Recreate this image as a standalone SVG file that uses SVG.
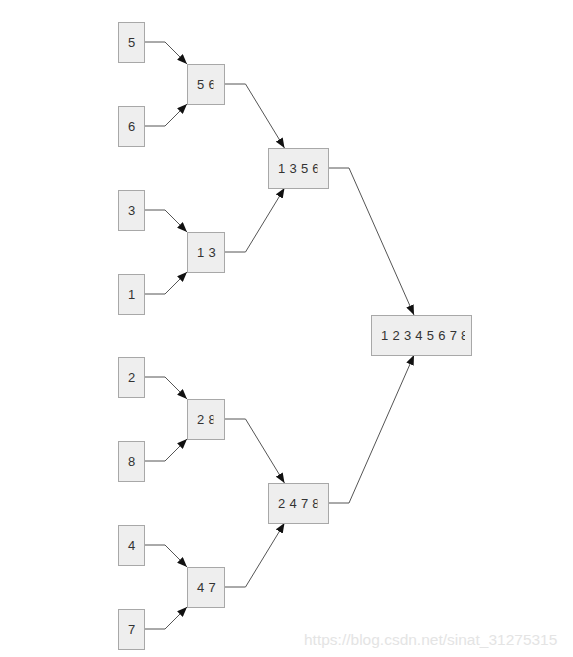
<svg xmlns="http://www.w3.org/2000/svg" width="573" height="657" viewBox="0 0 573 657">
<style>
.box{fill:#eeeeee;stroke:#a8a8a8;stroke-width:1}
.lbl{font-family:"Liberation Sans",Arial,sans-serif;font-size:13px;fill:#333333;letter-spacing:0.3px}
.edge{fill:none;stroke:#555555;stroke-width:1}
.wm{font-family:"Liberation Sans",Arial,sans-serif;font-size:15.5px;fill:#e4e4e4}
</style>
<defs>
<marker id="arr" markerUnits="userSpaceOnUse" markerWidth="10" markerHeight="8" viewBox="0 0 10 8" refX="10" refY="4" orient="auto">
<path d="M0,0 L10,4 L0,8 Z" fill="#111111"/>
</marker>
<clipPath id="c56"><rect x="187" y="64" width="26.5" height="40"/></clipPath>
<clipPath id="c13"><rect x="187" y="232" width="30" height="40"/></clipPath>
<clipPath id="c28"><rect x="187" y="399" width="26.5" height="40"/></clipPath>
<clipPath id="c47"><rect x="187" y="567" width="30" height="40"/></clipPath>
<clipPath id="c1356"><rect x="268" y="148" width="49.5" height="40"/></clipPath>
<clipPath id="c2478"><rect x="268" y="483" width="49.5" height="40"/></clipPath>
<clipPath id="call"><rect x="371" y="315" width="94" height="40"/></clipPath>
</defs>
<rect width="573" height="657" fill="#ffffff"/>
<g id="connectors">
<path class="edge" marker-end="url(#arr)" d="M144 42 H165 L187 64"/>
<path class="edge" marker-end="url(#arr)" d="M144 126 H165 L187 104"/>
<path class="edge" marker-end="url(#arr)" d="M144 210 H165 L187 232"/>
<path class="edge" marker-end="url(#arr)" d="M144 294 H165 L187 272"/>
<path class="edge" marker-end="url(#arr)" d="M144 377 H165 L187 399"/>
<path class="edge" marker-end="url(#arr)" d="M144 461 H165 L187 439"/>
<path class="edge" marker-end="url(#arr)" d="M144 545 H165 L187 567"/>
<path class="edge" marker-end="url(#arr)" d="M144 629 H165 L187 607"/>
<path class="edge" marker-end="url(#arr)" d="M224 84 H245.5 L284.5 148"/>
<path class="edge" marker-end="url(#arr)" d="M224 252 H245.5 L284.5 188"/>
<path class="edge" marker-end="url(#arr)" d="M224 419 H245.5 L284.5 483"/>
<path class="edge" marker-end="url(#arr)" d="M224 587 H245.5 L284.5 523"/>
<path class="edge" marker-end="url(#arr)" d="M328 168 H349 L414 315"/>
<path class="edge" marker-end="url(#arr)" d="M328 503 H349 L414 355"/>
</g>
<g id="n5"><rect class="box" x="118.5" y="22.5" width="26" height="40"/><text class="lbl" x="128" y="46.7">5</text></g>
<g id="n6"><rect class="box" x="118.5" y="106.5" width="26" height="40"/><text class="lbl" x="128" y="130.7">6</text></g>
<g id="n3"><rect class="box" x="118.5" y="190.5" width="26" height="40"/><text class="lbl" x="128" y="214.7">3</text></g>
<g id="n1"><rect class="box" x="118.5" y="274.5" width="26" height="40"/><text class="lbl" x="128" y="298.7">1</text></g>
<g id="n2"><rect class="box" x="118.5" y="357.5" width="26" height="40"/><text class="lbl" x="128" y="381.7">2</text></g>
<g id="n8"><rect class="box" x="118.5" y="441.5" width="26" height="40"/><text class="lbl" x="128" y="465.7">8</text></g>
<g id="n4"><rect class="box" x="118.5" y="525.5" width="26" height="40"/><text class="lbl" x="128" y="549.7">4</text></g>
<g id="n7"><rect class="box" x="118.5" y="609.5" width="26" height="40"/><text class="lbl" x="128" y="633.7">7</text></g>
<g id="n56"><rect class="box" x="187.5" y="64.5" width="37" height="40"/><text class="lbl" x="197" y="88.7" clip-path="url(#c56)">5 6</text></g>
<g id="n13"><rect class="box" x="187.5" y="232.5" width="37" height="40"/><text class="lbl" x="197" y="256.7" clip-path="url(#c13)">1 3</text></g>
<g id="n28"><rect class="box" x="187.5" y="399.5" width="37" height="40"/><text class="lbl" x="197" y="423.7" clip-path="url(#c28)">2 8</text></g>
<g id="n47"><rect class="box" x="187.5" y="567.5" width="37" height="40"/><text class="lbl" x="197" y="591.7" clip-path="url(#c47)">4 7</text></g>
<g id="n1356"><rect class="box" x="268.5" y="148.5" width="60" height="40"/><text class="lbl" x="278" y="172.7" clip-path="url(#c1356)">1 3 5 6</text></g>
<g id="n2478"><rect class="box" x="268.5" y="483.5" width="60" height="40"/><text class="lbl" x="278" y="507.7" clip-path="url(#c2478)">2 4 7 8</text></g>
<g id="n12345678"><rect class="box" x="371.5" y="315.5" width="100" height="40"/><text class="lbl" x="381" y="339.7" clip-path="url(#call)">1 2 3 4 5 6 7 8</text></g>
<text class="wm" x="304" y="645">https://blog.csdn.net/sinat_31275315</text>
</svg>
